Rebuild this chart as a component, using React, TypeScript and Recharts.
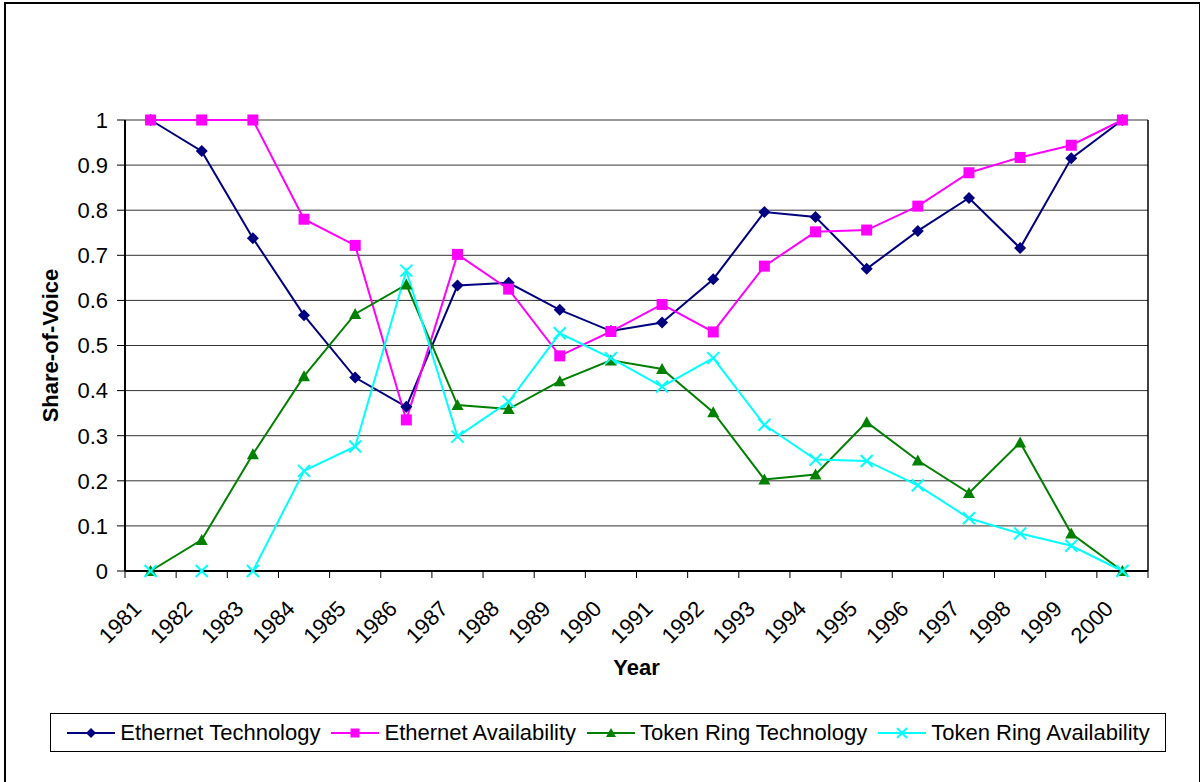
import { LineChart, Line, XAxis, YAxis, CartesianGrid, Legend, ReferenceLine } from 'recharts'

const years = ['1981', '1982', '1983', '1984', '1985', '1986', '1987', '1988', '1989', '1990',
  '1991', '1992', '1993', '1994', '1995', '1996', '1997', '1998', '1999', '2000']

const ethernetTech = [1, 0.931, 0.738, 0.567, 0.429, 0.364, 0.633, 0.639, 0.579, 0.532,
  0.551, 0.647, 0.796, 0.785, 0.67, 0.754, 0.827, 0.716, 0.915, 1]
const ethernetAvail = [1, 1, 1, 0.78, 0.722, 0.335, 0.702, 0.625, 0.477, 0.531,
  0.591, 0.53, 0.676, 0.752, 0.756, 0.809, 0.883, 0.917, 0.944, 1]
const tokenTech = [0, 0.069, 0.259, 0.432, 0.57, 0.635, 0.368, 0.359, 0.421, 0.467,
  0.448, 0.352, 0.203, 0.214, 0.33, 0.245, 0.173, 0.285, 0.083, 0]
const tokenAvail = [0, 0, 0, 0.222, 0.276, 0.666, 0.298, 0.375, 0.527, 0.472,
  0.409, 0.472, 0.324, 0.247, 0.244, 0.19, 0.117, 0.083, 0.056, 0]

const yTicks = [0, 0.1, 0.2, 0.3, 0.4, 0.5, 0.6, 0.7, 0.8, 0.9, 1]

const series = [
  { key: 'et', name: 'Ethernet Technology', color: '#000080', shape: 'diamond' },
  { key: 'ea', name: 'Ethernet Availability', color: '#FF00FF', shape: 'square' },
  { key: 'tt', name: 'Token Ring Technology', color: '#008000', shape: 'triangle' },
  { key: 'ta', name: 'Token Ring Availability', color: '#00FFFF', shape: 'x' },
]

const data = years.map((year, i) => ({
  x: i + 0.5,
  year,
  et: ethernetTech[i],
  ea: ethernetAvail[i],
  tt: tokenTech[i],
  ta: tokenAvail[i],
}))

const boundaryTicks = years.map((_, i) => i).concat(years.length)
const centerTicks = years.map((_, i) => i + 0.5)

const FONT = '"Liberation Sans", Arial, sans-serif'

function Marker({ shape, cx, cy, color, s = 6 }: { shape: string; cx: number; cy: number; color: string; s?: number }) {
  if (shape === 'diamond') {
    return <polygon points={`${cx},${cy - s} ${cx + s},${cy} ${cx},${cy + s} ${cx - s},${cy}`} fill={color} />
  }
  if (shape === 'square') {
    return <rect x={cx - s + 0.5} y={cy - s + 0.5} width={2 * s - 1} height={2 * s - 1} fill={color} />
  }
  if (shape === 'triangle') {
    return <polygon points={`${cx},${cy - s} ${cx + s},${cy + s - 1} ${cx - s},${cy + s - 1}`} fill={color} />
  }
  return (
    <g stroke={color} strokeWidth={2}>
      <line x1={cx - s} y1={cy - s} x2={cx + s} y2={cy + s} />
      <line x1={cx - s} y1={cy + s} x2={cx + s} y2={cy - s} />
    </g>
  )
}

function YearTick({ x, y, payload }: any) {
  const label = years[Math.floor(payload.value)]
  const ax = x - 19
  return (
    <text
      x={ax}
      y={y}
      dy="0.71em"
      textAnchor="end"
      transform={`rotate(-45, ${ax}, ${y})`}
      fill="#000"
      fontSize={22}
      fontFamily={FONT}
    >
      {label}
    </text>
  )
}

function LegendBox() {
  return (
    <div
      style={{
        boxSizing: 'border-box',
        width: '100%',
        height: '100%',
        border: '1.5px solid #000',
        background: '#fff',
        display: 'flex',
        alignItems: 'center',
        justifyContent: 'center',
        fontFamily: FONT,
        fontSize: 22,
        color: '#000',
      }}
    >
      {series.map((s, i) => (
        <div key={s.key} style={{ display: 'flex', alignItems: 'center', marginRight: i < series.length - 1 ? 10 : 0 }}>
          <svg width={50} height={20} style={{ marginRight: 4 }}>
            <line x1={1} y1={10} x2={49} y2={10} stroke={s.color} strokeWidth={2} />
            <Marker shape={s.shape} cx={25} cy={10} color={s.color} s={5} />
          </svg>
          <span>{s.name}</span>
        </div>
      ))}
    </div>
  )
}

export default function App() {
  return (
    <div style={{ position: 'relative', width: 1200, height: 782, overflow: 'hidden', background: '#fff' }}>
      <style>{`body{margin:0}`}</style>
      <LineChart
        width={1200}
        height={782}
        data={data}
        margin={{ top: 120, right: 52, bottom: 0, left: 0 }}
        style={{ fontFamily: FONT }}
      >
        <CartesianGrid xAxisId="grid" vertical={false} stroke="#000" strokeOpacity={0.8} />
        <XAxis
          xAxisId="grid"
          type="number"
          dataKey="x"
          domain={[0, 20]}
          ticks={boundaryTicks}
          interval={0}
          tick={() => null}
          tickSize={7}
          height={8}
          axisLine={{ stroke: '#000', strokeWidth: 2 }}
          tickLine={{ stroke: '#000', strokeWidth: 1 }}
        />
        <XAxis
          xAxisId="lab"
          type="number"
          dataKey="x"
          domain={[0, 20]}
          ticks={centerTicks}
          interval={0}
          tick={<YearTick />}
          tickSize={0}
          tickMargin={20}
          height={203}
          axisLine={false}
          tickLine={false}
          label={{
            value: 'Year',
            position: 'insideTop',
            offset: 80,
            style: { fontWeight: 'bold', fontSize: 22, fill: '#000', fontFamily: FONT },
          }}
        />
        <YAxis
          domain={[0, 1]}
          ticks={yTicks}
          interval={0}
          width={125}
          tickSize={8}
          tickMargin={9}
          tick={{ fill: '#000', fontSize: 22, fontFamily: FONT }}
          axisLine={{ stroke: '#000', strokeWidth: 2 }}
          tickLine={{ stroke: '#000', strokeWidth: 1 }}
          label={{
            value: 'Share-of-Voice',
            angle: -90,
            position: 'insideLeft',
            offset: 50,
            style: { textAnchor: 'middle', fontWeight: 'bold', fontSize: 22, fill: '#000', fontFamily: FONT },
          }}
        />
        <ReferenceLine xAxisId="grid" x={20} stroke="#000" strokeWidth={1.5} />
        {series.map((s) => (
          <Line
            key={s.key}
            xAxisId="grid"
            dataKey={s.key}
            name={s.name}
            stroke={s.color}
            strokeWidth={2}
            isAnimationActive={false}
            activeDot={false}
            dot={(p: any) => <Marker key={`${s.key}-${p.index}`} shape={s.shape} cx={p.cx} cy={p.cy} color={s.color} />}
          />
        ))}
        <Legend
          layout="horizontal"
          verticalAlign="middle"
          align="center"
          content={() => <LegendBox />}
          wrapperStyle={{ left: 50, top: 713, width: 1116, height: 39 }}
        />
      </LineChart>
      <div
        style={{
          position: 'absolute',
          left: 4,
          top: 2,
          width: 1193,
          height: 800,
          border: '2px solid #000',
          pointerEvents: 'none',
        }}
      />
    </div>
  )
}
